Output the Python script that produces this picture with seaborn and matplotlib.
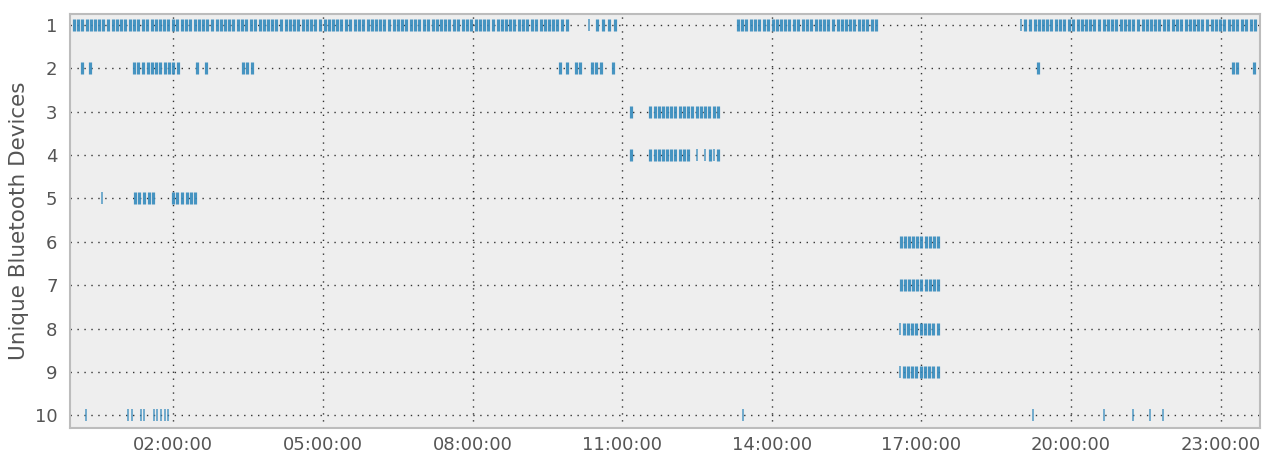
import matplotlib
matplotlib.use("Agg")
import matplotlib.pyplot as plt
import matplotlib.dates as mdates
import numpy as np
import pandas as pd
import seaborn as sns

# Sighting times in minutes after midnight, one list per device.
# "strong" sightings were picked up on consecutive scans, "weak" on a single scan.
dev1_strong = [
    0, 5, 10, 16, 21, 26, 31, 36, 42, 47, 52, 57, 62, 68, 73, 78, 83, 88, 94, 99,
    104, 109, 114, 120, 125, 130, 135, 140, 146, 151, 156, 161, 166, 172, 177,
    182, 187, 192, 198, 203, 208, 213, 218, 224, 229, 234, 239, 244, 250, 255,
    260, 265, 270, 276, 281, 286, 291, 296, 302, 307, 312, 317, 322, 328, 333,
    338, 343, 348, 354, 359, 364, 369, 374, 380, 385, 390, 395, 400, 406, 411,
    416, 421, 426, 432, 437, 442, 447, 452, 458, 463, 468, 473, 478, 484, 489,
    494, 499, 504, 510, 515, 520, 525, 530, 536, 541, 546, 551, 556, 562, 567,
    572, 577, 582, 588, 593,
    630, 637, 644, 651,
    799, 804, 809, 815, 820, 825, 830, 835, 841, 846, 851, 856, 861, 867, 872,
    877, 882, 887, 893, 898, 903, 908, 913, 919, 924, 929, 934, 939, 945, 950,
    955, 960, 965,
    1145, 1150, 1156, 1161, 1166, 1171, 1176, 1182, 1187, 1192, 1197, 1202,
    1208, 1213, 1218, 1223, 1228, 1234, 1239, 1244, 1249, 1254, 1260, 1265,
    1270, 1275, 1280, 1286, 1291, 1296, 1301, 1306, 1312, 1317, 1322, 1327,
    1332, 1338, 1343, 1348, 1353, 1358, 1364, 1369, 1374, 1379, 1384, 1390,
    1395, 1400, 1405, 1410, 1416, 1421,
]
dev1_weak = [620, 1140]

dev2_strong = [10, 20, 73, 78, 83, 89, 94, 99, 104, 110, 115, 120, 126, 149, 159,
               204, 209, 215, 585, 594, 604, 609, 624, 629, 634, 649,
               1160, 1395, 1400, 1420]
dev2_weak = []

dev3_strong = [670, 694, 699, 704, 709, 714, 719, 724, 729, 734, 739, 744, 750,
               755, 760, 765, 770, 775]
dev3_weak = []

dev4_strong = [670, 694, 699, 704, 709, 714, 719, 724, 729, 734, 739, 766, 775]
dev4_weak = [750, 760, 770]

dev5_strong = [74, 79, 85, 91, 96, 120, 125, 131, 136, 141, 146]
dev5_weak = [34]

dev6_strong = [995, 1000, 1005, 1010, 1015, 1020, 1025, 1030, 1035, 1040]
dev6_weak = []

dev7_strong = [995, 1000, 1005, 1010, 1015, 1020, 1025, 1030, 1035, 1040]
dev7_weak = []

dev8_strong = [999, 1004, 1009, 1014, 1019, 1024, 1029, 1034, 1040]
dev8_weak = [994]

dev9_strong = [999, 1004, 1009, 1014, 1019, 1024, 1029, 1034, 1040]
dev9_weak = [994]

dev10_strong = []
dev10_weak = [15, 66, 70, 81, 85, 97, 101, 105, 110, 114,
              805, 1154, 1240, 1275, 1295, 1310]

device_ids = [1, 2, 3, 4, 5, 6, 7, 8, 9, 10]
strong = [dev1_strong, dev2_strong, dev3_strong, dev4_strong, dev5_strong,
          dev6_strong, dev7_strong, dev8_strong, dev9_strong, dev10_strong]
weak = [dev1_weak, dev2_weak, dev3_weak, dev4_weak, dev5_weak,
        dev6_weak, dev7_weak, dev8_weak, dev9_weak, dev10_weak]

tick_hours = [2, 5, 8, 11, 14, 17, 20, 23]

day = pd.Timestamp("2014-01-01")


def to_frame(lists):
    rows = []
    for dev, mins in zip(device_ids, lists):
        for m in mins:
            rows.append({"time": day + pd.Timedelta(minutes=m), "device": dev})
    return pd.DataFrame(rows, columns=["time", "device"])


df_strong = to_frame(strong)
df_weak = to_frame(weak)

sns.set_theme(style="white")
plt.rcParams["font.family"] = ["DejaVu Sans"]

fig = plt.figure(figsize=(12.62, 4.53), dpi=100)
ax = fig.add_axes([0.0555, 0.0555, 0.9429, 0.9135])
ax.set_facecolor("#eeeeee")

blue = "#348abd"
sns.scatterplot(data=df_strong, x="time", y="device", ax=ax, marker="|",
                s=72, linewidth=2.3, color=blue, alpha=0.9, legend=False)
sns.scatterplot(data=df_weak, x="time", y="device", ax=ax, marker="|",
                s=72, linewidth=1.1, color=blue, alpha=0.85, legend=False)

ax.set_xlim(day - pd.Timedelta(minutes=4.2), day + pd.Timedelta(minutes=1427.2))
ax.set_ylim(10.29, 0.75)
ax.set_yticks(device_ids)
ax.xaxis.set_major_locator(mdates.HourLocator(byhour=tick_hours))
ax.xaxis.set_major_formatter(mdates.DateFormatter("%H:%M:%S"))

ax.set_axisbelow(True)
ax.grid(True, color="#333333", linestyle=(0, (1, 4)), linewidth=1.0)

for side in ["left", "right", "top", "bottom"]:
    ax.spines[side].set_visible(True)
    ax.spines[side].set_color("#bcbcbc")
    ax.spines[side].set_linewidth(1.5)

ax.tick_params(axis="both", length=0, labelsize=13, labelcolor="#555555")
ax.tick_params(axis="y", pad=9)
ax.tick_params(axis="x", pad=6)
ax.set_xlabel("")
ax.set_ylabel("Unique Bluetooth Devices", fontsize=15.5, color="#555555", labelpad=4)

fig.savefig("out.png", dpi=100)
